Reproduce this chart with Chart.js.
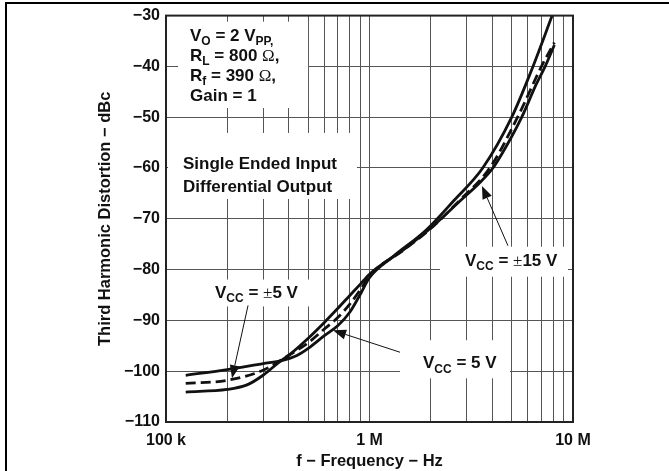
<!DOCTYPE html>
<html>
<head>
<meta charset="utf-8">
<script src="https://cdn.jsdelivr.net/npm/chart.js@4.4.1/dist/chart.umd.min.js"></script>
<style>
  html, body { margin: 0; padding: 0; background: #fff; }
  #wrap { position: relative; width: 669px; height: 471px; }
  #frame { position: absolute; left: 5px; top: 2px; right: 0; bottom: 0;
           border-top: 2px solid #000; border-left: 2px solid #000; pointer-events: none; }
</style>
</head>
<body>
<div id="wrap">
  <canvas id="thd" width="669" height="471"></canvas>
  <div id="frame"></div>
</div>
<script>
// x axis: frequency (Hz), log scale
const xTicks = [1e5, 2e5, 3e5, 4e5, 5e5, 6e5, 7e5, 8e5, 9e5,
                1e6, 2e6, 3e6, 4e6, 5e6, 6e6, 7e6, 8e6, 9e6, 1e7];
const xLabels = { 100000: '100 k', 1000000: '1 M', 10000000: '10 M' };

// VCC = 5 V (solid, steepest at high frequency)
const freqSingle5 = [125e3, 200e3, 300e3, 370e3, 440e3, 500e3, 600e3, 700e3, 800e3, 900e3,
                     1e6, 1.3e6, 1.9e6, 2.6e6, 3.6e6, 5e6, 6.36e6, 7.9e6];
const thdSingle5 = [-100.8, -99.7, -98.5, -97.9, -96.9, -95.5, -93.0, -91.0, -88.4, -84.9,
                    -81.6, -77.5, -72.2, -66.4, -60.0, -50.0, -40.0, -30.0];

// VCC = ±5 V (dashed)
const freqDual5 = [125e3, 200e3, 300e3, 400e3, 500e3, 600e3, 700e3, 800e3, 900e3,
                   1e6, 1.5e6, 2e6, 2.8e6, 3.9e6, 5.34e6, 7.0e6, 8.1e6];
const thdDual5 = [-102.4, -101.8, -99.8, -96.9, -94.4, -91.7, -89.4, -86.8, -84.0,
                  -81.2, -75.9, -71.9, -66.2, -60.0, -50.0, -40.0, -35.3];

// VCC = ±15 V (solid, lowest at low frequency)
const freqDual15 = [125e3, 200e3, 250e3, 300e3, 360e3, 400e3, 500e3, 600e3, 700e3, 800e3, 900e3,
                    1e6, 1.5e6, 2e6, 2.8e6, 3.5e6, 4.04e6, 5e6, 5.6e6, 6.6e6, 7.3e6, 8.1e6];
const thdDual15 = [-104.1, -103.6, -102.7, -100.8, -98.2, -96.9, -93.5, -90.4, -87.6, -85.1, -82.9,
                   -80.9, -75.8, -71.8, -66.4, -62.8, -60.0, -53.8, -50.0, -43.5, -40.0, -35.8];

// white boxes behind the notes: [f left, f right, dB top, dB bottom]
const noteBoxes = [
  [1.146e5, 4.99e5, -31.2, -48.2],
  [1.023e5, 8.68e5, -53.1, -66.1],
  [1.609e5, 5.10e5, -81.96, -87.25],
  [1.413e6, 4.90e6, -93.9, -101.4],
  [2.22e6, 9.45e6, -75.5, -81.4]
];

// text notes, anchored at left / cap middle: [f, dB, parts]
const notes = [
  [1.312e5, -33.73, [['V', ''], ['O', 'sub'], [' = 2 V', ''], ['PP,', 'sub']]],
  [1.312e5, -37.65, [['R', ''], ['L', 'sub'], [' = 800 ', ''], ['\u03A9', 'sym'], [',', '']]],
  [1.312e5, -41.67, [['R', ''], ['f', 'sub'], [' = 390 ', ''], ['\u03A9', 'sym'], [',', '']]],
  [1.312e5, -45.59, [['Gain = 1', '']]],
  [1.212e5, -59.0, [['Single Ended Input', '']]],
  [1.212e5, -63.47, [['Differential Output', '']]],
  [1.741e5, -84.3, [['V', ''], ['CC', 'sub'], [' = ', ''], ['\u00B1', 'sym'], ['5 V', '']]],
  [1.832e6, -98.24, [['V', ''], ['CC', 'sub'], [' = 5 V', '']]],
  [2.947e6, -78.0, [['V', ''], ['CC', 'sub'], [' = ', ''], ['\u00B1', 'sym'], ['15 V', '']]]
];

// arrows: [f from, dB from, f tip, dB tip]
const arrows = [
  [2.53e5, -87.06, 2.11e5, -101.37],
  [1.413e6, -96.27, 6.62e5, -91.96],
  [4.79e6, -75.29, 3.57e6, -63.53]
];

const SANS = '"Liberation Sans", Arial, Helvetica, sans-serif';
const SERIF = '"Liberation Serif", "Times New Roman", serif';
const INK = '#111';

function toPoints(xs, ys) {
  return xs.map((x, i) => ({ x: x, y: ys[i] }));
}

function drawRich(ctx, parts, x, yMid, size) {
  const base = yMid + size * 0.36;
  let cx = x;
  parts.forEach(([txt, kind]) => {
    let dy = 0;
    if (kind === 'sub') {
      ctx.font = `bold ${Math.round(size * 0.72)}px ${SANS}`;
      dy = size * 0.26;
    } else if (kind === 'sym') {
      ctx.font = `${size}px ${SERIF}`;
    } else {
      ctx.font = `bold ${size}px ${SANS}`;
    }
    ctx.fillText(txt, cx, base + dy);
    cx += ctx.measureText(txt).width;
  });
}

function drawArrow(ctx, x1, y1, x2, y2) {
  const ang = Math.atan2(y2 - y1, x2 - x1);
  const len = 13, half = 5;
  const bx = x2 - len * Math.cos(ang), by = y2 - len * Math.sin(ang);
  ctx.beginPath();
  ctx.moveTo(x1, y1);
  ctx.lineTo(bx, by);
  ctx.stroke();
  ctx.beginPath();
  ctx.moveTo(x2, y2);
  ctx.lineTo(bx - half * Math.sin(ang), by + half * Math.cos(ang));
  ctx.lineTo(bx + half * Math.sin(ang), by - half * Math.cos(ang));
  ctx.closePath();
  ctx.fill();
}

const annotate = {
  id: 'annotate',
  beforeDatasetsDraw(chart) {
    const { ctx, scales: { x, y } } = chart;
    ctx.save();
    ctx.fillStyle = '#fff';
    noteBoxes.forEach(([f1, f2, d1, d2]) => {
      const l = x.getPixelForValue(f1), r = x.getPixelForValue(f2);
      const t = y.getPixelForValue(d1), b = y.getPixelForValue(d2);
      ctx.fillRect(l, t, r - l, b - t);
    });
    ctx.restore();
  },
  afterDatasetsDraw(chart) {
    const { ctx, chartArea: a, scales: { x, y } } = chart;
    ctx.save();
    // plot frame
    ctx.strokeStyle = '#222';
    ctx.lineWidth = 2;
    ctx.strokeRect(a.left, a.top, a.right - a.left, a.bottom - a.top);

    ctx.fillStyle = INK;
    ctx.textAlign = 'left';
    ctx.textBaseline = 'alphabetic';
    notes.forEach(([f, db, parts]) => {
      drawRich(ctx, parts, x.getPixelForValue(f), y.getPixelForValue(db), 17);
    });

    ctx.strokeStyle = INK;
    ctx.lineWidth = 1;
    arrows.forEach(([f1, d1, f2, d2]) => {
      drawArrow(ctx, x.getPixelForValue(f1), y.getPixelForValue(d1),
                x.getPixelForValue(f2), y.getPixelForValue(d2));
    });
    ctx.restore();
  }
};

const lineStyle = {
  borderColor: INK,
  borderWidth: 2.8,
  pointRadius: 0,
  fill: false,
  cubicInterpolationMode: 'monotone'
};

new Chart(document.getElementById('thd'), {
  type: 'line',
  data: {
    datasets: [
      { ...lineStyle, label: 'VCC = 5 V', data: toPoints(freqSingle5, thdSingle5) },
      { ...lineStyle, label: 'VCC = \u00B115 V', data: toPoints(freqDual15, thdDual15) },
      { ...lineStyle, label: 'VCC = \u00B15 V', data: toPoints(freqDual5, thdDual5), borderDash: [10, 5] }
    ]
  },
  options: {
    responsive: false,
    animation: false,
    layout: { padding: { left: 0, top: 14, right: 96, bottom: 0 } },
    plugins: { legend: { display: false }, tooltip: { enabled: false } },
    scales: {
      x: {
        type: 'logarithmic',
        min: 1e5,
        max: 1e7,
        afterBuildTicks: (axis) => { axis.ticks = xTicks.map((v) => ({ value: v })); },
        afterFit: (axis) => { axis.height = 49; },
        grid: { color: '#555', lineWidth: 1, drawTicks: false },
        border: { display: false },
        ticks: {
          autoSkip: false,
          maxRotation: 0,
          minRotation: 0,
          padding: 9,
          color: INK,
          font: { family: SANS, size: 16, weight: 'bold' },
          callback: (v) => xLabels[v] || ''
        },
        title: {
          display: true,
          text: 'f \u2212 Frequency \u2212 Hz',
          color: INK,
          font: { family: SANS, size: 16.5, weight: 'bold' },
          padding: { top: 0, bottom: 0 }
        }
      },
      y: {
        min: -110,
        max: -30,
        afterFit: (axis) => { axis.width = 166; },
        grid: { color: '#555', lineWidth: 1, drawTicks: false },
        border: { display: false },
        ticks: {
          stepSize: 10,
          padding: 6,
          color: INK,
          font: { family: SANS, size: 16, weight: 'bold' },
          callback: (v) => '\u2212' + Math.abs(v)
        },
        title: {
          display: true,
          text: 'Third Harmonic Distortion \u2212 dBc',
          color: INK,
          font: { family: SANS, size: 16.5, weight: 'bold' },
          padding: { top: 96, bottom: 0 }
        }
      }
    }
  },
  plugins: [annotate]
});
</script>
</body>
</html>
